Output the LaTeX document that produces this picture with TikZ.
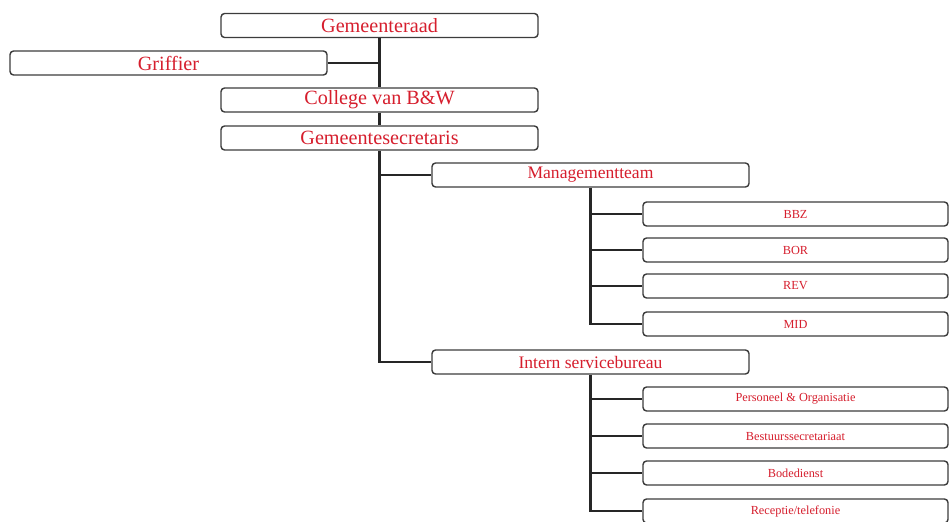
\documentclass[tikz,border=0pt]{standalone}
\usepackage{fontspec}
\setmainfont{Liberation Serif}
\usetikzlibrary{positioning}
\definecolor{orgred}{RGB}{214,30,45}
\definecolor{boxline}{RGB}{60,60,60}

\begin{document}
\begin{tikzpicture}[x=0.02cm, y=-0.02cm,
		box/.style={draw=boxline, line width=0.8pt, rounded corners=2pt, fill=white,
			minimum width=6.34cm, minimum height=0.48cm, inner sep=0pt, text=orgred},
		top/.style={box, font=\fontsize{11.5}{12}\selectfont},
		mid/.style={box, font=\fontsize{10}{11}\selectfont},
		sub/.style={box, minimum width=6.1cm, font=\fontsize{7}{8}\selectfont},
		link/.style={line width=1.4pt, black!85}]
			\useasboundingbox (0,0) rectangle (950,521);
			
			% bestuur
			\node[top] (raad) at (379.5,25.5) {Gemeenteraad};
			\node[top] (griffier) at (168.5,63) {Griffier};
			\node[top] (bw) at (379.5,100) {College van B\&W};
			\node[top] (secr) at (379.5,138) {Gemeentesecretaris};
			
			% organisatie
			\node[mid] (mt) at (590.5,175) {Managementteam};
			\node[mid] (isb) at (590.5,362) {Intern servicebureau};
			
			\node[sub] (bbz) at (795.5,214) {BBZ};
			\node[sub] (bor) at (795.5,250) {BOR};
			\node[sub] (rev) at (795.5,286) {REV};
			\node[sub] (mid) at (795.5,324) {MID};
			
			\node[sub] (po) at (795.5,399) {Personeel \& Organisatie};
			\node[sub] (bs) at (795.5,436) {Bestuurssecretariaat};
			\node[sub] (bode) at (795.5,473) {Bodedienst};
			\node[sub] (rt) at (795.5,511) {Receptie/telefonie};
			
			\draw[link] (raad.south) -- (bw.north);
			\draw[link] (griffier.east) -- (griffier.east -| raad.south);
			\draw[link] (bw.south) -- (secr.north);
			\draw[link] (secr.south) -- (secr.south |- isb.west) -- (isb.west);
			\draw[link] (secr.south |- mt.west) -- (mt.west);
			
			\draw[link] (mt.south) -- (mt.south |- mid.west) -- (mid.west);
			\foreach \n in {bbz, bor, rev}
				\draw[link] (mt.south |- \n.west) -- (\n.west);
			
			\draw[link] (isb.south) -- (isb.south |- rt.west) -- (rt.west);
			\foreach \n in {po, bs, bode}
				\draw[link] (isb.south |- \n.west) -- (\n.west);
		\end{tikzpicture}
\end{document}
